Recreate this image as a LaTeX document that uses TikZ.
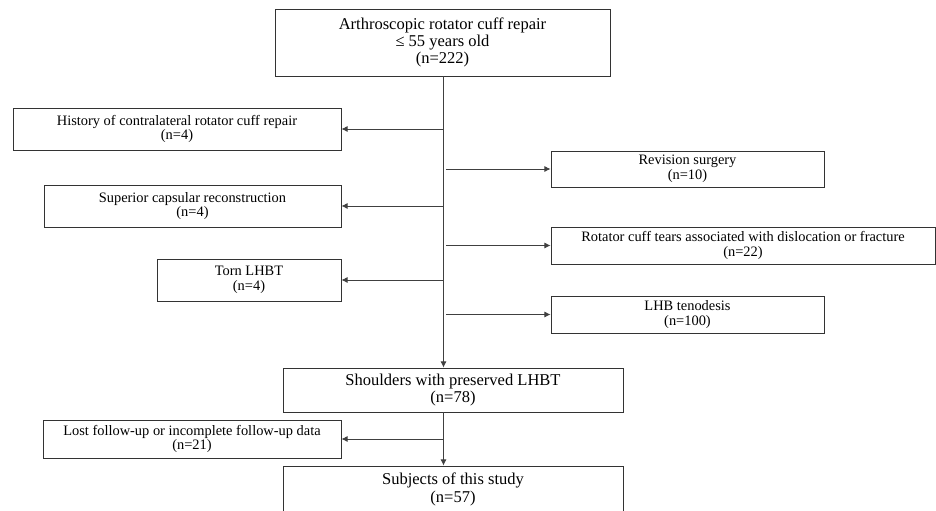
\documentclass[tikz,border=0pt]{standalone}
\usepackage{fontspec}
\setmainfont{Liberation Serif}
\usetikzlibrary{arrows.meta}

\begin{document}
\begin{tikzpicture}[
	bigbox/.style={draw=black!80, line width=0.5pt, align=center, inner sep=0pt, font=\fontsize{9.4}{9.8}\selectfont},
	smallbox/.style={draw=black!80, line width=0.5pt, align=center, inner sep=0pt, font=\fontsize{8.2}{8.4}\selectfont},
	link/.style={draw=black!75, line width=0.5pt},
	arr/.style={link, -{Latex[length=3.5pt,width=3.5pt]}}
	]
	\useasboundingbox (0,0) rectangle (18.72,10.22); % page size
	% main flow
	\node[bigbox, minimum width=6.70cm, minimum height=1.34cm] (top) at (8.85,9.37) {Arthroscopic rotator cuff repair\\≤ 55 years old\\(n=222)};
	\node[bigbox, minimum width=6.80cm, minimum height=0.88cm] (should) at (9.06,2.42) {Shoulders with preserved LHBT\\(n=78)};
	\node[bigbox, minimum width=6.80cm, minimum height=0.94cm] (subj) at (9.06,0.43) {Subjects of this study\\(n=57)};
	% excluded, left side
	\node[smallbox, minimum width=6.56cm, minimum height=0.84cm] (hist) at (3.54,7.64) {History of contralateral rotator cuff repair\\(n=4)};
	\node[smallbox, minimum width=5.94cm, minimum height=0.84cm] (sup) at (3.85,6.10) {Superior capsular reconstruction\\(n=4)};
	\node[smallbox, minimum width=3.68cm, minimum height=0.84cm] (torn) at (4.98,4.62) {Torn LHBT\\(n=4)};
	\node[smallbox, minimum width=5.96cm, minimum height=0.76cm] (lost) at (3.84,1.44) {Lost follow-up or incomplete follow-up data\\(n=21)};
	% excluded, right side
	\node[smallbox, minimum width=5.46cm, minimum height=0.72cm] (rev) at (13.75,6.84) {Revision surgery\\(n=10)};
	\node[smallbox, minimum width=7.68cm, minimum height=0.74cm] (rot) at (14.86,5.31) {Rotator cuff tears associated with dislocation or fracture\\(n=22)};
	\node[smallbox, minimum width=5.46cm, minimum height=0.74cm] (lhb) at (13.75,3.93) {LHB tenodesis\\(n=100)};
	% spine
	\coordinate (spine) at (8.87,5);
	\draw[arr] (top.south -| spine) -- (should.north -| spine);
	\draw[arr] (should.south -| spine) -- (subj.north -| spine);
	% branches
	\draw[arr] (spine |- hist.east) -- (hist.east);
	\draw[arr] (spine |- sup.east) -- (sup.east);
	\draw[arr] (spine |- torn.east) -- (torn.east);
	\draw[arr] (spine |- lost.east) -- (lost.east);
	\draw[arr] ([xshift=1.5pt]spine |- rev.west) -- (rev.west);
	\draw[arr] ([xshift=1.5pt]spine |- rot.west) -- (rot.west);
	\draw[arr] ([xshift=1.5pt]spine |- lhb.west) -- (lhb.west);
\end{tikzpicture}
\end{document}
